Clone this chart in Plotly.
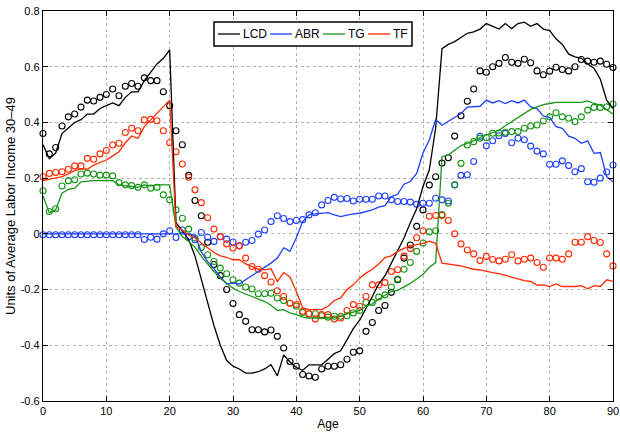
import plotly.graph_objects as go

age = list(range(0, 91))

# Model lines
lcd_line = [0.32, 0.27, 0.29, 0.36, 0.38, 0.40, 0.41, 0.43, 0.43, 0.45, 0.46, 0.47, 0.46, 0.49, 0.51, 0.51, 0.55, 0.58, 0.61, 0.63, 0.66,
            0.04, 0.01, -0.02, -0.08, -0.16, -0.25, -0.33, -0.40, -0.455, -0.475, -0.485, -0.50, -0.50, -0.495, -0.485, -0.47, -0.51, -0.435, -0.46, -0.48,
            -0.49, -0.47, -0.47, -0.47, -0.45, -0.43, -0.42, -0.38, -0.34, -0.31, -0.27, -0.225, -0.18, -0.15, -0.105, -0.06, -0.015, 0.04, 0.09, 0.17,
            0.23, 0.38, 0.665, 0.68, 0.69, 0.705, 0.72, 0.725, 0.735, 0.755, 0.745, 0.735, 0.755, 0.737, 0.755, 0.76, 0.745, 0.755, 0.735, 0.73,
            0.70, 0.68, 0.645, 0.635, 0.63, 0.61, 0.595, 0.555, 0.48, 0.45]
abr_line = [0.0] * 24 + [
            -0.005, -0.065, -0.10, -0.125, -0.155, -0.18, -0.177, -0.18, -0.165, -0.15, -0.135, -0.122, -0.105, -0.087, -0.05, -0.063, -0.014,
            0.044, 0.068, 0.072, 0.074, 0.076, 0.068, 0.062, 0.067, 0.072, 0.074, 0.079, 0.086, 0.096, 0.101, 0.134, 0.142, 0.178, 0.188, 0.217, 0.29,
            0.337, 0.41, 0.39, 0.405, 0.42, 0.432, 0.455, 0.456, 0.458, 0.48, 0.47, 0.478, 0.468, 0.478, 0.47, 0.48, 0.456, 0.45, 0.423, 0.418,
            0.385, 0.379, 0.351, 0.343, 0.325, 0.334, 0.289, 0.292, 0.205, 0.187]
tg_line = [0.136, 0.076, 0.086, 0.146, 0.16, 0.164, 0.187, 0.19, 0.191, 0.191, 0.191, 0.191, 0.176, 0.172, 0.17, 0.167, 0.176, 0.172, 0.177, 0.176, 0.176,
           0.024, -0.01, -0.027, -0.048, -0.081, -0.11, -0.135, -0.159, -0.177, -0.195, -0.207, -0.216, -0.224, -0.234, -0.243, -0.256, -0.275, -0.272, -0.284, -0.29,
           -0.299, -0.302, -0.302, -0.302, -0.302, -0.299, -0.296, -0.287, -0.282, -0.275, -0.26, -0.251, -0.234, -0.222, -0.207, -0.203, -0.192, -0.178, -0.162, -0.145,
           -0.12, -0.103, 0.277, 0.283, 0.30, 0.317, 0.325, 0.334, 0.346, 0.355, 0.362, 0.372, 0.388, 0.403, 0.42, 0.435, 0.447, 0.456, 0.464, 0.468,
           0.472, 0.472, 0.472, 0.472, 0.472, 0.477, 0.468, 0.462, 0.447, 0.43]
tf_line = [0.191, 0.196, 0.2, 0.205, 0.215, 0.227, 0.233, 0.232, 0.247, 0.256, 0.265, 0.28, 0.295, 0.327, 0.351, 0.343, 0.385, 0.409, 0.433, 0.456, 0.48,
           0.026, 0.014, -0.004, -0.015, -0.033, -0.051, -0.067, -0.079, -0.084, -0.093, -0.093, -0.108, -0.117, -0.127, -0.129, -0.125, -0.171, -0.139, -0.155, -0.207,
           -0.266, -0.272, -0.272, -0.272, -0.26, -0.239, -0.23, -0.2, -0.183, -0.159, -0.141, -0.127, -0.108, -0.085, -0.079, -0.063, -0.052, -0.044, -0.039, -0.034,
           -0.026, -0.034, -0.105, -0.108, -0.111, -0.115, -0.121, -0.127, -0.129, -0.135, -0.139, -0.143, -0.148, -0.155, -0.162, -0.168, -0.171, -0.184, -0.183, -0.189,
           -0.18, -0.189, -0.189, -0.189, -0.186, -0.197, -0.186, -0.189, -0.165, -0.171]

# Observed values (open circles)
lcd_obs = [0.36, 0.287, 0.31, 0.387, 0.42, 0.43, 0.455, 0.48, 0.477, 0.49, 0.50, 0.52, 0.496, 0.53, 0.54, 0.53, 0.56, 0.55, 0.55, 0.51, 0.46,
           0.37, 0.32, 0.21, 0.12, 0.065, -0.03, -0.11, -0.15, -0.20, -0.25, -0.29, -0.314, -0.344, -0.344, -0.352, -0.345, -0.368, -0.41, -0.458, -0.475,
           -0.505, -0.51, -0.515, -0.485, -0.475, -0.475, -0.47, -0.45, -0.425, -0.42, -0.35, -0.318, -0.275, -0.257, -0.21, -0.165, -0.087, -0.04, 0.027, 0.086,
           0.175, 0.205, 0.254, 0.273, 0.351, 0.424, 0.476, 0.52, 0.585, 0.58, 0.60, 0.612, 0.633, 0.616, 0.612, 0.627, 0.614, 0.585, 0.571, 0.584,
           0.598, 0.59, 0.585, 0.60, 0.626, 0.62, 0.616, 0.62, 0.609, 0.597]
abr_obs = [-0.003] * 16 + [
           -0.02, -0.012, -0.019, 0.0, 0.011,
           -0.013, 0.014, -0.01, -0.021, 0.005, -0.012, -0.027, -0.01, -0.019, -0.029, -0.043, -0.03, -0.024, -0.001, 0.014, 0.044, 0.065, 0.055, 0.044, 0.048,
           0.051, 0.068, 0.076, 0.104, 0.12, 0.131, 0.125, 0.127, 0.118, 0.124, 0.124, 0.124, 0.136, 0.136, 0.122, 0.116, 0.116, 0.114, 0.106, 0.11,
           0.11, 0.128, 0.122, 0.118, 0.176, 0.21, 0.212, 0.26, 0.35, 0.316, 0.334, 0.352, 0.36, 0.327, 0.343, 0.338, 0.315, 0.297, 0.287, 0.25,
           0.25, 0.262, 0.245, 0.223, 0.234, 0.187, 0.185, 0.2, 0.222, 0.247]
tg_obs = [0.155, 0.08, 0.09, 0.172, 0.191, 0.194, 0.215, 0.218, 0.215, 0.211, 0.211, 0.208, 0.184, 0.176, 0.173, 0.167, 0.176, 0.164, 0.167, 0.14, 0.122,
          0.086, 0.056, 0.017, -0.015, -0.049, -0.075, -0.099, -0.123, -0.143, -0.165, -0.177, -0.191, -0.198, -0.215, -0.215, -0.213, -0.23, -0.239, -0.249, -0.26,
          -0.282, -0.287, -0.287, -0.294, -0.299, -0.296, -0.296, -0.294, -0.284, -0.275, -0.246, -0.246, -0.227, -0.219, -0.191, -0.162, -0.127, -0.103, -0.063, -0.033,
          0.007, 0.011, 0.069, 0.11, 0.176, 0.253, 0.319, 0.331, 0.343, 0.346, 0.361, 0.362, 0.365, 0.367, 0.367, 0.379, 0.387, 0.391, 0.405, 0.42,
          0.435, 0.42, 0.415, 0.403, 0.42, 0.444, 0.454, 0.454, 0.456, 0.466]
tf_obs = [0.205, 0.217, 0.22, 0.223, 0.232, 0.244, 0.244, 0.271, 0.268, 0.287, 0.299, 0.319, 0.325, 0.364, 0.379, 0.37, 0.409, 0.411, 0.406, 0.37, 0.327,
          0.295, 0.251, 0.203, 0.158, 0.112, 0.058, 0.017, -0.01, -0.036, -0.051, -0.043, -0.087, -0.117, -0.127, -0.15, -0.173, -0.204, -0.225, -0.249, -0.254,
          -0.278, -0.287, -0.306, -0.29, -0.29, -0.306, -0.302, -0.275, -0.254, -0.26, -0.225, -0.183, -0.183, -0.175, -0.135, -0.129, -0.08, -0.053, -0.014, 0.011,
          0.063, 0.066, 0.066, 0.048, 0.0, -0.036, -0.058, -0.072, -0.096, -0.081, -0.092, -0.097, -0.091, -0.075, -0.097, -0.091, -0.087, -0.103, -0.12, -0.087,
          -0.087, -0.091, -0.072, -0.03, -0.03, -0.01, -0.024, -0.031, -0.072, -0.115]

names = ["LCD", "ABR", "TG", "TF"]
colors = ["#000000", "#1f3fff", "#179617", "#ff2a00"]
lines = [lcd_line, abr_line, tg_line, tf_line]
observed = [lcd_obs, abr_obs, tg_obs, tf_obs]

y_ticks = [0.8, 0.6, 0.4, 0.2, 0, -0.2, -0.4, -0.6]
y_ticktext = ["0.8", "0.6", "0.4", "0.2", "0", "-0.2", "-0.4", "-0.6"]
x_ticks = list(range(0, 91, 10))

FONT = "Liberation Sans, Arial, sans-serif"
W, H = 620, 433
ML, MR, MT, MB = 43, 7, 11, 32

fig = go.Figure()

for obs, col in zip(observed, colors):
    fig.add_trace(go.Scatter(
        x=age, y=obs, mode="markers", showlegend=False,
        marker=dict(symbol="circle-open", size=6, color=col, line=dict(width=1.1, color=col)),
        cliponaxis=False,
    ))

for name, vals, col in zip(names, lines, colors):
    fig.add_trace(go.Scatter(
        x=age, y=vals, mode="lines", name=name, showlegend=False,
        line=dict(color=col, width=1.3),
    ))

axis_common = dict(
    showline=True, linecolor="black", linewidth=1.3, mirror="ticks",
    ticks="inside", ticklen=5, tickcolor="black", tickwidth=1,
    showgrid=True, gridcolor="#b5b5b5", griddash="dot", gridwidth=1,
    zeroline=False, ticklabeloverflow="allow", automargin=False,
    tickfont=dict(family=FONT, size=11, color="black"),
)

fig.update_xaxes(
    range=[0, 90], tickvals=x_ticks,
    title=dict(text="Age", font=dict(family=FONT, size=12, color="black"), standoff=3),
    **axis_common,
)
fig.update_yaxes(
    range=[-0.6, 0.8], tickvals=y_ticks, ticktext=y_ticktext,
    title=dict(text="Units of Average Labor Income 30\u201349", font=dict(family=FONT, size=13, color="black"), standoff=2),
    **axis_common,
)

# Compact boxed key drawn in paper coordinates (pixel layout of the key)
plot_w = W - ML - MR
plot_h = H - MT - MB


def px_x(p):
    return (p - ML) / plot_w


def px_y(p):
    return (H - MB - p) / plot_h


box_left, box_right, box_top, box_bottom = 214, 412, 22, 46
sample_starts = [218, 270, 323, 368]
sample_len = 22
row_y = 34

shapes = [dict(type="rect", xref="paper", yref="paper",
               x0=px_x(box_left), x1=px_x(box_right), y0=px_y(box_bottom), y1=px_y(box_top),
               line=dict(color="black", width=1.5), fillcolor="white", layer="above")]
annotations = []
for name, col, s in zip(names, colors, sample_starts):
    shapes.append(dict(type="line", xref="paper", yref="paper",
                       x0=px_x(s), x1=px_x(s + sample_len), y0=px_y(row_y), y1=px_y(row_y),
                       line=dict(color=col, width=1.3), layer="above"))
    annotations.append(dict(xref="paper", yref="paper", x=px_x(s + sample_len + 1), y=px_y(row_y),
                            text=name, showarrow=False, xanchor="left", yanchor="middle",
                            font=dict(family=FONT, size=12, color="black")))

fig.update_layout(
    width=W, height=H,
    margin=dict(l=ML, r=MR, t=MT, b=MB),
    paper_bgcolor="white", plot_bgcolor="white",
    showlegend=False,
    shapes=shapes, annotations=annotations,
)

fig.write_html("out.html")
